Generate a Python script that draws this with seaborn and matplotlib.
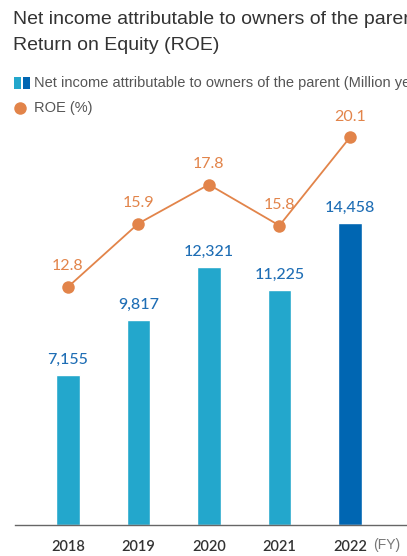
import matplotlib
matplotlib.use("Agg")
import matplotlib.pyplot as plt
import matplotlib.patches as mpatches
from matplotlib.lines import Line2D
import seaborn as sns
import pandas as pd

# Fiscal-year results
years = ["2018", "2019", "2020", "2021", "2022"]
net_income = [7155, 9817, 12321, 11225, 14458]       # million yen
roe = [12.8, 15.9, 17.8, 15.8, 20.1]                 # percent
bar_colors = ["#23A7CC", "#23A7CC", "#23A7CC", "#23A7CC", "#0066B2"]

title_lines = ["Net income attributable to owners of the parent",
               "Return on Equity (ROE)"]
legend_bar = "Net income attributable to owners of the parent (Million yen)"
legend_line = "ROE (%)"

ORANGE = "#E2844A"
LABEL_BLUE = "#1F6EB5"
TEXT = "#333333"

sns.set_theme(style="white")
plt.rcParams["font.family"] = ["Liberation Sans", "DejaVu Sans"]

W, H = 407, 556
fig = plt.figure(figsize=(W / 100, H / 100), dpi=100)
fig.patch.set_facecolor("white")

# axes box in pixel coordinates (left, top, right, bottom)
L, T, R, B = 15, 120, 407, 525
ax = fig.add_axes([L / W, 1 - B / H, (R - L) / W, (B - T) / H])

df = pd.DataFrame({"year": years, "income": net_income, "roe": roe})

sns.barplot(data=df, x="year", y="income", hue="year", palette=bar_colors,
            legend=False, width=0.33, ax=ax, saturation=1)
ax.set_xlim(-0.75, 4.81)
ax.set_ylim(0, 19378)

for i, v in enumerate(net_income):
    ax.annotate(f"{v:,}", (i, v), xytext=(0, 6), textcoords="offset points",
                ha="center", va="bottom", color=LABEL_BLUE, fontsize=11.5,
                family="Lato", fontweight="medium")

ax2 = ax.twinx()
ax2.set_ylim(1.19, 20.95)
sns.lineplot(x=list(range(len(years))), y=roe, ax=ax2, color=ORANGE,
             linewidth=1.3, marker="o", markersize=9, markeredgewidth=0,
             legend=False)
for i, v in enumerate(roe):
    ax2.annotate(f"{v:.1f}", (i, v), xytext=(0, 10), textcoords="offset points",
                 ha="center", va="bottom", color=ORANGE, fontsize=11.5,
                 family="Lato")

for a in (ax, ax2):
    for s in ("top", "right", "left"):
        a.spines[s].set_visible(False)
    a.set_yticks([])
    a.set_ylabel("")
ax2.spines["bottom"].set_visible(False)
ax.spines["bottom"].set_color("#666666")
ax.spines["bottom"].set_linewidth(1.0)
ax.set_xlabel("")
ax.tick_params(axis="x", length=0, pad=11, labelsize=10.5, labelcolor=TEXT)
for lab in ax.get_xticklabels():
    lab.set_family("Lato")
    lab.set_fontweight("semibold")

fig.text(373 / W, 1 - 545 / H, "(FY)", fontsize=10, color="#777777",
         ha="left", va="center")

# title
fig.text(13 / W, 1 - 20 / H, title_lines[0], fontsize=14, color=TEXT,
         ha="left", va="center")
fig.text(13 / W, 1 - 46 / H, title_lines[1], fontsize=14, color=TEXT,
         ha="left", va="center")

# legend
fig.patches.append(mpatches.Rectangle((14 / W, 1 - 89 / H), 7 / W, 12 / H,
                                      transform=fig.transFigure,
                                      color="#23A7CC", lw=0))
fig.patches.append(mpatches.Rectangle((23 / W, 1 - 89 / H), 7 / W, 12 / H,
                                      transform=fig.transFigure,
                                      color="#0066B2", lw=0))
fig.text(34 / W, 1 - 83 / H, legend_bar, fontsize=10.5, color="#555555",
         ha="left", va="center")
fig.lines.append(Line2D([20 / W], [1 - 108 / H], transform=fig.transFigure,
                        marker="o", markersize=9, color=ORANGE,
                        markeredgewidth=0))
fig.text(34 / W, 1 - 108 / H, legend_line, fontsize=10.5, color="#555555",
         ha="left", va="center")

fig.savefig("out.png", dpi=100)
